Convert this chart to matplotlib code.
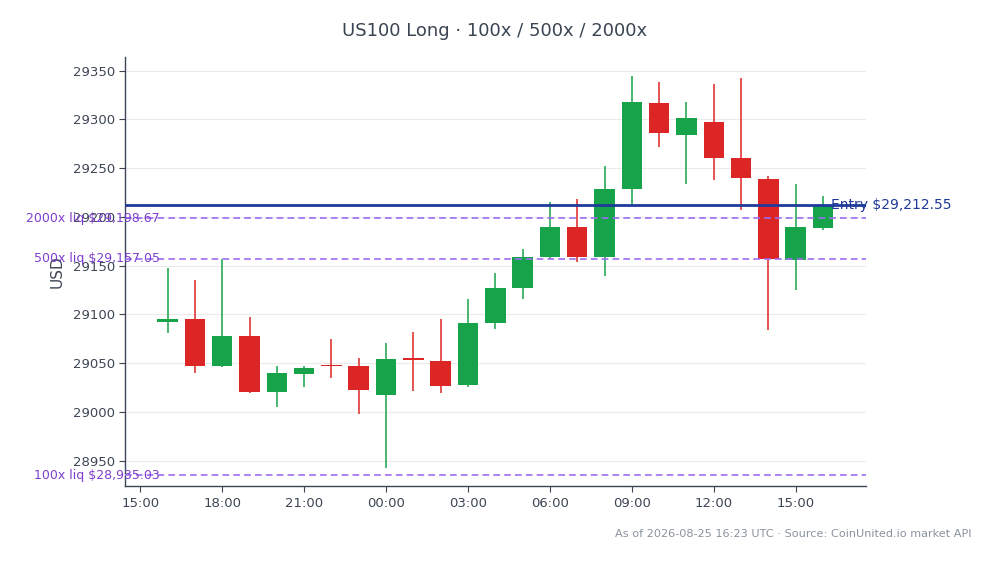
import numpy as np
import pandas as pd
import matplotlib
matplotlib.use("Agg")
import matplotlib.pyplot as plt
import matplotlib.dates as mdates

# hourly candles, 2026-08-24 16:00 .. 2026-08-25 16:00 UTC
times = pd.date_range("2026-08-24 16:00", "2026-08-25 16:00", freq="h")
opens = [29092, 29095, 29047, 29078, 29021, 29039, 29047.5, 29047, 29017, 29055,
         29052, 29028, 29091, 29127, 29159, 29190, 29159, 29229, 29317, 29284,
         29297, 29260, 29239, 29156, 29189]
highs = [29148, 29135, 29157, 29097, 29047, 29047, 29075, 29055, 29071, 29082,
         29095, 29116, 29143, 29167, 29215, 29218, 29252, 29344, 29338, 29318,
         29336, 29342, 29242, 29234, 29221]
lows = [29081, 29040, 29046, 29020, 29005, 29026, 29035, 28998, 28943, 29022,
        29020, 29026, 29085, 29116, 29157, 29154, 29139, 29212, 29272, 29234,
        29238, 29207, 29084, 29125, 29187]
closes = [29095, 29047, 29078, 29021, 29040, 29045, 29047, 29023, 29054, 29053,
          29027, 29091, 29127, 29159, 29190, 29159, 29229, 29318, 29286, 29301,
          29260, 29240, 29157, 29190, 29212.55]

entry = 29212.55
liq_names = ["2000x", "500x", "100x"]
liq_prices = [29198.67, 29157.05, 28935.03]

GREEN = "#16a34a"
RED = "#dc2626"
TXT = "#3d4654"

fig = plt.figure(figsize=(9.94, 5.64), dpi=100)
ax = fig.add_axes([0.126, 0.138, 0.745, 0.761])

x = mdates.date2num(times)
w = 0.75 / 24
for xi, o, h, l, c in zip(x, opens, highs, lows, closes):
    col = GREEN if c >= o else RED
    ax.vlines(xi, l, h, color=col, linewidth=1.1, zorder=3)
    ax.bar(xi, max(abs(c - o), 1.0), bottom=min(o, c), width=w, color=col,
           edgecolor=col, linewidth=0, zorder=4)

ax.axhline(entry, color="#1e3a9a", linewidth=2, zorder=5)
ax.text(0.953, entry, "Entry $29,212.55", transform=ax.get_yaxis_transform(),
        color="#1e3a9a", fontsize=10, va="center", ha="left", zorder=6)

for name, p in zip(liq_names, liq_prices):
    ax.axhline(p, color="#9d6ef0", linewidth=1.2, linestyle=(0, (4, 2.5)), zorder=5)
    ax.text(0.047, p, f"{name} liq ${p:,.2f}", transform=ax.get_yaxis_transform(),
            color="#7e3fcf", fontsize=9, va="center", ha="right", zorder=6)

ax.set_ylim(28924, 29364)
ax.set_xlim(mdates.date2num(pd.Timestamp("2026-08-24 14:27")),
            mdates.date2num(pd.Timestamp("2026-08-25 17:34")))
ax.set_yticks(np.arange(28950, 29351, 50))
ax.xaxis.set_major_locator(mdates.HourLocator(byhour=range(0, 24, 3)))
ax.xaxis.set_major_formatter(mdates.DateFormatter("%H:%M"))

ax.grid(axis="y", color="#ebebeb", linewidth=0.8, zorder=0)
ax.set_axisbelow(True)
for s in ["top", "right"]:
    ax.spines[s].set_visible(False)
for s in ["left", "bottom"]:
    ax.spines[s].set_color("#3a4556")
    ax.spines[s].set_linewidth(1.0)
ax.tick_params(colors=TXT, labelsize=9.5, length=4)
ax.tick_params(axis="both", colors="#3a4556", labelcolor=TXT)

ax.set_ylabel("USD", color=TXT, fontsize=11, labelpad=6)
fig.text(0.498, 0.945, "US100 Long · 100x / 500x / 2000x", ha="center", va="center",
         fontsize=13, color="#3a4452")
fig.text(0.977, 0.053, "As of 2026-08-25 16:23 UTC · Source: CoinUnited.io market API",
         ha="right", va="center", fontsize=8.1, color="#8a929e")

fig.savefig("out.png", dpi=100)
